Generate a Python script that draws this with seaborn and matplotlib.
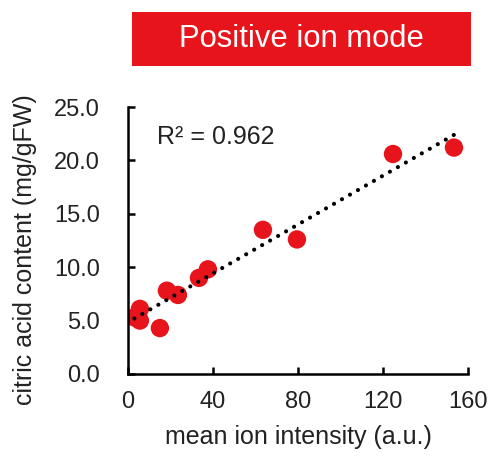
import matplotlib
matplotlib.use("Agg")
import matplotlib.pyplot as plt
import matplotlib.patches as mpatches
import numpy as np
import pandas as pd
import seaborn as sns

# data
intensity = [3.0, 5.6, 5.6, 15.0, 18.3, 23.5, 33.4, 37.6, 63.5, 79.5, 124.7, 153.4]
citric = [5.3, 6.1, 5.0, 4.3, 7.8, 7.4, 9.0, 9.8, 13.5, 12.6, 20.6, 21.2]
x_ticks = [0, 40, 80, 120, 160]
y_ticks = [0.0, 5.0, 10.0, 15.0, 20.0, 25.0]
title = "Positive ion mode"
r2_text = "R² = 0.962"
xlabel = "mean ion intensity (a.u.)"
ylabel = "citric acid content (mg/gFW)"

sns.set_style("white")
plt.rcParams["font.family"] = ["Liberation Sans", "DejaVu Sans"]

df = pd.DataFrame({"x": intensity, "y": citric})

W, H, DPI = 493, 457, 100
fig = plt.figure(figsize=(W / DPI, H / DPI), dpi=DPI)
L, R, B, T = 128, 468, 374, 107
ax = fig.add_axes([L / W, 1 - B / H, (R - L) / W, (B - T) / H])

red = "#E8141C"
sns.regplot(data=df, x="x", y="y", scatter=False, ci=None, truncate=True, ax=ax,
            line_kws=dict(color="black", lw=3.0, linestyle=(0, (0.01, 2.2)),
                          dash_capstyle="round", solid_capstyle="round"))
sns.scatterplot(data=df, x="x", y="y", ax=ax, color=red, s=175, edgecolor="none",
                zorder=1)
for ln in ax.lines:
    ln.set_zorder(3)

ax.set_xlim(0, 160)
ax.set_ylim(0, 25)
ax.set_xticks(x_ticks)
ax.set_yticks(y_ticks)
ax.set_yticklabels([f"{v:.1f}" for v in y_ticks])
ax.tick_params(axis="both", direction="in", length=5, width=1.8, color="black",
               labelsize=17, labelcolor="#222222", bottom=True, left=True)
ax.tick_params(axis="x", pad=12)
ax.tick_params(axis="y", pad=20)
for s in ["top", "right"]:
    ax.spines[s].set_visible(False)
for s in ["left", "bottom"]:
    ax.spines[s].set_color("black")
    ax.spines[s].set_linewidth(1.8)
ax.set_facecolor("white")

ax.set_xlabel(xlabel, fontsize=18, color="#222222")
ax.set_ylabel(ylabel, fontsize=18, color="#222222")
ax.xaxis.set_label_coords(0.5, -0.19)
ax.yaxis.set_label_coords(-0.268, 0.464)
ax.xaxis.label.set_va("top")

ax.text((157 - L) / (R - L) * 160, (B - 137) / (B - T) * 25, r2_text,
        fontsize=18, color="#222222", va="center", ha="left")

# title box
fig.patches.append(mpatches.Rectangle((132 / W, 1 - 66 / H), (471 - 132) / W, 54 / H,
                                      transform=fig.transFigure, facecolor=red,
                                      edgecolor="none", zorder=0))
fig.text(301.5 / W, 1 - 39 / H, title, color="white", fontsize=22.3,
         ha="center", va="center")

fig.savefig("out.png", dpi=DPI, facecolor="white")
